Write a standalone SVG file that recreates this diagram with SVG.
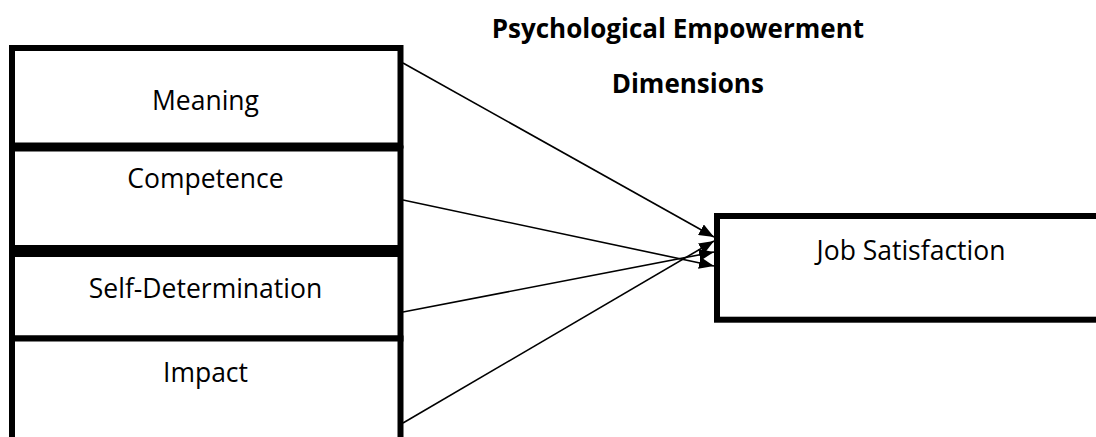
<svg xmlns="http://www.w3.org/2000/svg" width="1096" height="437" viewBox="0 0 1096 437">
  <style>
    .box { fill: #ffffff; stroke: #000000; stroke-width: 6; }
    .lbl { font-family: "Open Sans", "Noto Sans", sans-serif; font-size: 26.5px; fill: #000000; text-anchor: middle; }
    .ttl { font-family: "Open Sans", "Noto Sans", sans-serif; font-size: 26px; font-weight: bold; fill: #000000; }
    .conn { stroke: #000000; stroke-width: 1.6; fill: none; marker-end: url(#arr); }
  </style>
  <defs>
    <marker id="arr" viewBox="0 0 15 12" refX="15" refY="6" markerWidth="15" markerHeight="12" markerUnits="userSpaceOnUse" orient="auto">
      <path d="M0,0 L15,6 L0,12 z" fill="#000000"/>
    </marker>
  </defs>
  <rect width="1096" height="437" fill="#ffffff"/>

  <g id="title">
    <text class="ttl" x="491.7" y="38.3">Psychological Empowerment</text>
    <text class="ttl" x="611.7" y="93.3">Dimensions</text>
  </g>

  <g id="meaning">
    <rect class="box" x="12" y="48" width="388.5" height="97.5"/>
    <text class="lbl" x="205.5" y="110">Meaning</text>
  </g>
  <g id="competence">
    <rect class="box" x="12" y="148.5" width="388.5" height="99.5"/>
    <text class="lbl" x="205.5" y="188.3">Competence</text>
  </g>
  <g id="self-determination">
    <rect class="box" x="12" y="254" width="388.5" height="84.5"/>
    <text class="lbl" x="205.5" y="298.3">Self-Determination</text>
  </g>
  <g id="impact">
    <rect class="box" x="12" y="338.5" width="388.5" height="130"/>
    <text class="lbl" x="205.5" y="382.3">Impact</text>
  </g>
  <g id="job-satisfaction">
    <rect class="box" x="717" y="216" width="420" height="103.7"/>
    <text class="lbl" x="911" y="260">Job Satisfaction</text>
  </g>

  <g id="connectors">
    <line class="conn" x1="403" y1="63" x2="714" y2="237"/>
    <line class="conn" x1="403" y1="200" x2="714" y2="266"/>
    <line class="conn" x1="403" y1="312" x2="714" y2="252"/>
    <line class="conn" x1="403" y1="423" x2="714" y2="241"/>
  </g>
</svg>
